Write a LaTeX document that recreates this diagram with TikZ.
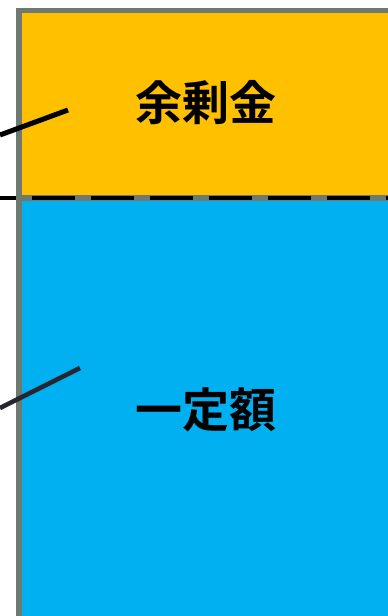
\documentclass[tikz,border=0pt]{standalone}
\usepackage{fontspec}
\newfontfamily\cjk[BoldFont={Noto Sans CJK JP Bold}]{Noto Sans CJK JP}
\definecolor{bordergray}{RGB}{110,122,112}
\definecolor{boxorange}{RGB}{255,192,0}
\definecolor{boxblue}{RGB}{0,176,240}
\definecolor{leaderdark}{RGB}{38,38,48}
\tikzset{
  boxpart/.style={draw=bordergray,line width=5.5pt},
  label/.style={font=\cjk\bfseries\fontsize{47pt}{47pt}\selectfont,text=black,inner sep=0pt},
}
\begin{document}
\begin{tikzpicture}[x=1pt,y=-1pt]
\useasboundingbox (0,0) rectangle (388,616);
\begin{scope}
\clip (0,0) rectangle (388,616);
\path[boxpart,fill=boxorange] (19,10.5) rectangle (420,198);
\path[boxpart,fill=boxblue] (19,198) rectangle (420,660);
\coordinate (divL) at (0,198);
\coordinate (divR) at (400,198);
\draw[black,line width=4pt,dash pattern=on 43pt off 16pt,dash phase=27pt] (divL) -- (divR);
\node[label] (surplus) at (206,103) {余剰金};
\node[label] (fixed) at (206,410) {一定額};
\coordinate (a0) at (0,135);
\coordinate (a1) at (68,110);
\coordinate (b0) at (0,408);
\coordinate (b1) at (80,368);
\draw[black,line width=5pt] (a0) -- (a1);
\draw[leaderdark,line width=4.5pt] (b0) -- (b1);
\end{scope}
\end{tikzpicture}
\end{document}
